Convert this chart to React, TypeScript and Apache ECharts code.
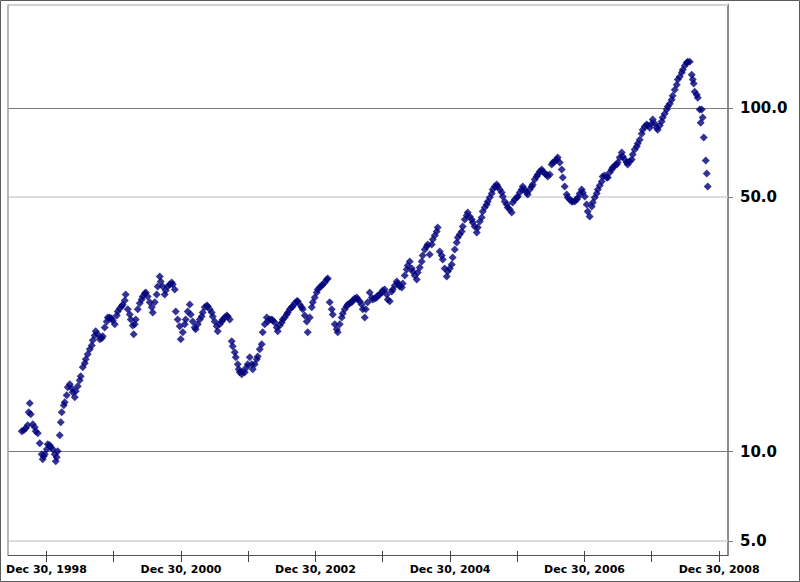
import React, { useEffect, useRef } from "react";
import * as echarts from "echarts";

// [decimal year, price]
const prices1998_1999: [number, number][] = [
  [1998.627,11.46],[1998.657,11.53],[1998.687,11.69],[1998.716,11.93],[1998.731,13.01],[1998.746,13.82],[1998.761,12.84],[1998.791,12.01],[1998.820,11.77],[1998.835,11.46],[1998.865,11.31],[1998.895,10.57],[1998.924,9.82],[1998.939,9.50],[1998.954,9.69],[1998.969,9.82],[1998.999,10.15],[1999.014,10.50],[1999.043,10.43],[1999.058,10.29],[1999.088,10.15],[1999.118,9.82],[1999.133,9.37],[1999.147,9.62],[1999.162,10.02],[1999.192,11.16],[1999.207,12.17],[1999.222,13.01],[1999.252,13.64],[1999.266,13.91],[1999.296,14.58],[1999.311,15.38],[1999.341,15.69],[1999.370,15.28],[1999.385,14.88],[1999.415,14.39],[1999.430,14.98],[1999.460,15.48],[1999.489,16.12],[1999.504,16.56],[1999.534,17.58],[1999.564,18.06],[1999.579,18.55],[1999.608,19.18],[1999.638,19.84],[1999.668,20.37],[1999.683,21.07],[1999.712,21.78],[1999.727,22.38],[1999.757,21.93],[1999.787,21.21],[1999.817,21.35],[1999.831,21.64],[1999.861,22.98],[1999.891,23.92],[1999.906,24.57],[1999.935,24.57],[1999.965,24.40],[1999.980,24.08],
];
const prices2000_2001: [number, number][] = [
  [2000.010,23.45],[2000.040,24.90],[2000.054,25.58],[2000.084,26.10],[2000.114,26.46],[2000.129,26.81],[2000.159,27.53],[2000.173,28.66],[2000.203,25.93],[2000.233,25.07],[2000.248,24.24],[2000.277,23.29],[2000.292,21.93],[2000.307,23.45],[2000.322,24.24],[2000.352,25.93],[2000.382,27.00],[2000.411,27.72],[2000.426,28.28],[2000.456,28.85],[2000.471,29.05],[2000.500,28.28],[2000.530,27.18],[2000.560,26.28],[2000.575,25.41],[2000.605,27.18],[2000.634,28.66],[2000.649,30.23],[2000.679,32.33],[2000.694,31.27],[2000.723,30.23],[2000.753,28.66],[2000.768,29.44],[2000.798,30.23],[2000.828,30.64],[2000.857,31.05],[2000.872,30.64],[2000.902,29.64],[2000.917,25.58],[2000.946,24.24],[2000.976,23.14],[2000.991,21.21],
  [2001.021,22.23],[2001.051,23.45],[2001.065,24.24],[2001.095,25.58],[2001.125,26.81],[2001.140,25.07],[2001.170,23.92],[2001.199,22.98],[2001.214,22.68],[2001.244,23.45],[2001.274,24.24],[2001.303,24.74],[2001.318,25.41],[2001.348,26.28],[2001.378,26.63],[2001.393,26.46],[2001.422,25.93],[2001.452,25.41],[2001.467,24.74],[2001.497,23.92],[2001.526,23.14],[2001.541,22.38],[2001.571,23.45],[2001.601,23.92],[2001.616,24.24],[2001.645,24.57],[2001.675,24.90],[2001.690,24.74],[2001.720,24.24],[2001.749,20.93],[2001.764,20.24],[2001.794,19.44],[2001.809,18.80],[2001.839,17.94],[2001.853,17.35],[2001.868,17.00],[2001.898,16.78],[2001.913,17.12],[2001.943,17.00],[2001.972,17.58],[2001.987,17.94],
];
const prices2002_2003: [number, number][] = [
  [2002.017,18.80],[2002.047,17.94],[2002.062,17.35],[2002.091,17.94],[2002.121,18.55],[2002.136,18.92],[2002.166,19.84],[2002.195,20.51],[2002.210,22.23],[2002.240,23.45],[2002.270,24.57],[2002.285,23.92],[2002.314,24.24],[2002.344,24.24],[2002.359,24.08],[2002.389,23.76],[2002.418,22.98],[2002.433,22.38],[2002.463,23.29],[2002.493,23.76],[2002.508,24.24],[2002.537,24.57],[2002.567,25.07],[2002.582,25.41],[2002.612,25.93],[2002.641,26.28],[2002.656,26.46],[2002.686,27.00],[2002.716,27.36],[2002.731,27.36],[2002.760,26.81],[2002.790,26.28],[2002.805,25.93],[2002.835,24.90],[2002.865,23.92],[2002.879,22.23],[2002.909,24.57],[2002.939,26.28],[2002.954,27.18],[2002.983,28.09],
  [2003.013,29.05],[2003.028,29.64],[2003.058,30.03],[2003.087,30.43],[2003.102,30.64],[2003.132,31.05],[2003.162,31.69],[2003.177,31.90],[2003.206,27.18],[2003.236,25.93],[2003.251,25.07],[2003.281,23.45],[2003.311,22.68],[2003.325,22.23],[2003.355,23.45],[2003.385,24.57],[2003.400,25.24],[2003.429,25.93],[2003.459,26.46],[2003.474,26.81],[2003.504,27.00],[2003.534,27.18],[2003.548,27.53],[2003.578,27.90],[2003.608,28.09],[2003.623,27.72],[2003.652,27.36],[2003.682,26.81],[2003.697,25.93],[2003.727,24.57],[2003.742,25.93],[2003.771,27.18],[2003.801,29.05],[2003.831,28.09],[2003.846,27.72],[2003.876,27.90],[2003.905,28.09],[2003.920,28.47],[2003.950,28.66],[2003.980,29.05],[2003.994,29.44],
];
const prices2004_2005: [number, number][] = [
  [2004.024,29.64],[2004.054,28.66],[2004.069,27.72],[2004.099,27.36],[2004.128,29.24],[2004.143,29.64],[2004.173,30.43],[2004.203,31.27],[2004.217,30.85],[2004.247,30.23],[2004.277,30.03],[2004.292,30.85],[2004.322,32.54],[2004.351,33.88],[2004.366,34.80],[2004.396,35.74],[2004.426,34.11],[2004.440,33.43],[2004.470,32.54],[2004.500,31.69],[2004.515,33.21],[2004.545,34.34],[2004.574,35.74],[2004.589,37.20],[2004.619,38.73],[2004.649,39.51],[2004.664,40.05],[2004.693,37.45],[2004.723,40.05],[2004.738,41.41],[2004.768,42.53],[2004.797,43.68],[2004.812,44.86],[2004.842,38.21],[2004.872,37.20],[2004.887,36.22],[2004.916,34.11],[2004.946,32.33],[2004.961,33.43],[2004.991,34.11],
  [2005.020,35.03],[2005.035,36.71],[2005.065,38.73],[2005.095,40.59],[2005.110,41.97],[2005.139,42.82],[2005.169,43.68],[2005.184,45.19],[2005.214,47.35],[2005.243,48.63],[2005.258,49.62],[2005.288,48.31],[2005.318,47.35],[2005.333,46.41],[2005.362,45.19],[2005.392,43.39],[2005.407,44.86],[2005.437,46.72],[2005.466,47.99],[2005.481,49.96],[2005.511,51.32],[2005.541,52.35],[2005.556,53.41],[2005.585,54.85],[2005.615,56.35],[2005.630,57.88],[2005.660,59.05],[2005.689,59.84],[2005.704,59.05],[2005.734,57.88],[2005.764,56.73],[2005.779,55.24],[2005.808,53.41],[2005.838,52.35],[2005.853,51.32],[2005.883,50.63],[2005.912,49.62],[2005.927,53.06],[2005.957,54.13],[2005.987,54.85],
];
const prices2006_2007: [number, number][] = [
  [2006.002,55.24],[2006.031,56.73],[2006.061,57.88],[2006.076,59.05],[2006.106,57.88],[2006.135,56.73],[2006.150,55.98],[2006.180,57.88],[2006.210,59.05],[2006.225,59.84],[2006.254,61.88],[2006.284,63.14],[2006.299,63.99],[2006.329,65.28],[2006.358,66.16],[2006.373,65.28],[2006.403,64.42],[2006.433,63.99],[2006.448,63.14],[2006.477,63.99],[2006.507,68.42],[2006.522,69.34],[2006.552,69.80],[2006.581,70.74],[2006.596,71.70],[2006.626,69.34],[2006.656,66.16],[2006.671,62.72],[2006.700,59.05],[2006.730,55.98],[2006.745,54.85],[2006.775,54.13],[2006.804,53.41],[2006.819,53.41],[2006.849,53.41],[2006.879,54.13],[2006.894,54.85],[2006.923,56.35],[2006.953,57.88],[2006.968,56.73],[2006.998,55.24],
  [2007.027,52.35],[2007.042,49.96],[2007.072,48.31],[2007.102,51.66],[2007.117,53.06],[2007.146,54.85],[2007.176,56.35],[2007.191,57.88],[2007.221,59.44],[2007.250,61.06],[2007.265,63.14],[2007.295,63.56],[2007.325,62.72],[2007.340,62.72],[2007.369,64.85],[2007.399,66.16],[2007.414,67.05],[2007.444,67.96],[2007.473,68.42],[2007.488,69.34],[2007.518,71.70],[2007.548,74.13],[2007.563,72.17],[2007.592,70.74],[2007.622,69.34],[2007.637,68.42],[2007.667,69.80],[2007.696,70.74],[2007.711,73.14],[2007.741,75.64],[2007.771,77.17],[2007.786,78.74],[2007.815,80.86],[2007.845,84.18],[2007.860,86.47],[2007.890,88.24],[2007.919,89.43],[2007.934,88.84],[2007.964,87.64],[2007.994,90.03],
];
const prices2008: [number, number][] = [
  [2008.009,92.47],[2008.038,90.03],[2008.068,87.64],[2008.083,86.47],[2008.113,88.84],[2008.142,91.24],[2008.157,93.72],[2008.187,96.26],[2008.217,98.88],[2008.232,100.9],[2008.262,102.9],[2008.291,105.7],[2008.306,108.6],[2008.336,113.0],[2008.366,116.9],[2008.381,120.9],[2008.410,123.3],[2008.440,126.7],[2008.455,129.2],[2008.485,132.7],[2008.514,135.4],[2008.529,136.3],[2008.559,136.3],[2008.589,125.0],[2008.604,120.9],[2008.618,117.7],[2008.633,111.5],[2008.663,109.3],[2008.678,107.1],[2008.707,98.88],[2008.722,90.62],[2008.737,98.88],[2008.752,93.72],[2008.767,82.0],[2008.797,70.3],[2008.812,64.4],[2008.826,59.05],
];

const xRangeYears = [1998.423, 2009.128];
const tickYears = [1998, 1999, 2000, 2001, 2002, 2003, 2004, 2005, 2006, 2007, 2008];
const labelYears = [1998, 2000, 2002, 2004, 2006, 2008];
const yRange = [5, 200];
const yTickValues = [5.5, 10, 55, 100];
const yTickLabels = ["5.0", "10.0", "50.0", "100.0"];
const majorGridValues = [10, 100];
const minorGridValues = [5.5, 55, 200];
const monthNames = ["Jan","Feb","Mar","Apr","May","Jun","Jul","Aug","Sep","Oct","Nov","Dec"];

const toMs = (yr: number) => Date.UTC(1999, 0, 1) + (yr - 1999) * 365.25 * 86400000;

export default function App() {
  const ref = useRef<HTMLDivElement>(null);
  useEffect(() => {
    document.body.style.margin = "0";
    if (!ref.current) return;
    const chart = echarts.init(ref.current, undefined, { renderer: "svg" });
    const allPoints = [
      ...prices1998_1999, ...prices2000_2001, ...prices2002_2003,
      ...prices2004_2005, ...prices2006_2007, ...prices2008,
    ].map(([yr, v]) => [toMs(yr), v]);
    const xMin = toMs(xRangeYears[0]);
    const xMax = toMs(xRangeYears[1]);
    const tickDates = tickYears.map((y) => Date.UTC(y, 11, 30));
    const labelDates = labelYears.map((y) => Date.UTC(y, 11, 30));
    const font = "'DejaVu Sans', Verdana, sans-serif";
    const xLabelFmt = (v: number) => {
      const d = new Date(v);
      return `${monthNames[d.getUTCMonth()]} ${d.getUTCDate()}, ${d.getUTCFullYear()}`;
    };
    const yLabelFmt = (v: number) => {
      let best = 0;
      yTickValues.forEach((t, i) => {
        if (Math.abs(t - v) < Math.abs(yTickValues[best] - v)) best = i;
      });
      return yTickLabels[best];
    };
    const gridLines: any[] = [
      ...minorGridValues.map((v) => ({ yAxis: v, lineStyle: { color: "#d2d2d2", width: v === 200 ? 2 : 1.5, type: "solid" } })),
      ...majorGridValues.map((v) => ({ yAxis: v, lineStyle: { color: "#7a7a7a", width: 1, type: "solid" } })),
      { xAxis: xMin, lineStyle: { color: "#a0a0a0", width: 1.5, type: "solid" } },
    ];
    const option: any = {
      animation: false,
      backgroundColor: "#ffffff",
      grid: { left: 8, right: 72, top: 4.5, bottom: 27, containLabel: false, outerBoundsMode: "none" },
      graphic: [
        {
          type: "rect",
          silent: true,
          z: 100,
          shape: { x: 0.5, y: 0.5, width: 799, height: 581 },
          style: { fill: "none", stroke: "#5a5a5a", lineWidth: 1 },
        },
      ],
      xAxis: [
        {
          type: "value",
          position: "bottom",
          min: xMin,
          max: xMax,
          axisLine: { show: true, lineStyle: { color: "#555555", width: 1 } },
          axisTick: { show: true, customValues: tickDates, length: 7, inside: false, lineStyle: { color: "#444444", width: 1 } },
          axisLabel: {
            customValues: labelDates,
            formatter: xLabelFmt,
            fontFamily: font,
            fontWeight: "bold",
            fontSize: 11,
            color: "#000000",
            margin: 9,
            hideOverlap: false,
            showMinLabel: true,
            showMaxLabel: true,
          },
          splitLine: { show: false },
        },
        {
          type: "value",
          position: "bottom",
          min: xMin,
          max: xMax,
          axisLine: { show: false },
          axisTick: { show: true, customValues: tickDates, length: 4, inside: true, lineStyle: { color: "#444444", width: 1 } },
          axisLabel: { show: false },
          splitLine: { show: false },
        },
      ],
      yAxis: {
        type: "log",
        logBase: 10,
        min: yRange[0],
        max: yRange[1],
        position: "right",
        axisLine: { show: true, lineStyle: { color: "#8c8c8c", width: 2 } },
        axisTick: { show: true, customValues: yTickValues, length: 5, lineStyle: { color: "#7a7a7a", width: 1 } },
        axisLabel: {
          customValues: yTickValues,
          formatter: yLabelFmt,
          fontFamily: font,
          fontWeight: "bold",
          fontSize: 15,
          color: "#000000",
          margin: 12,
        },
        splitLine: { show: false },
      },
      series: [
        {
          type: "line",
          data: [],
          z: 1,
          silent: true,
          markLine: {
            silent: true,
            z: 1,
            animation: false,
            symbol: ["none", "none"],
            label: { show: false },
            emphasis: { disabled: true },
            data: gridLines,
          },
        },
        {
          type: "scatter",
          z: 10,
          data: allPoints,
          symbol: "diamond",
          symbolSize: 8,
          itemStyle: { color: "#00007a" },
        },
      ],
    };
    chart.setOption(option);
    return () => chart.dispose();
  }, []);
  return <div ref={ref} style={{ width: 800, height: 582 }} />;
}
